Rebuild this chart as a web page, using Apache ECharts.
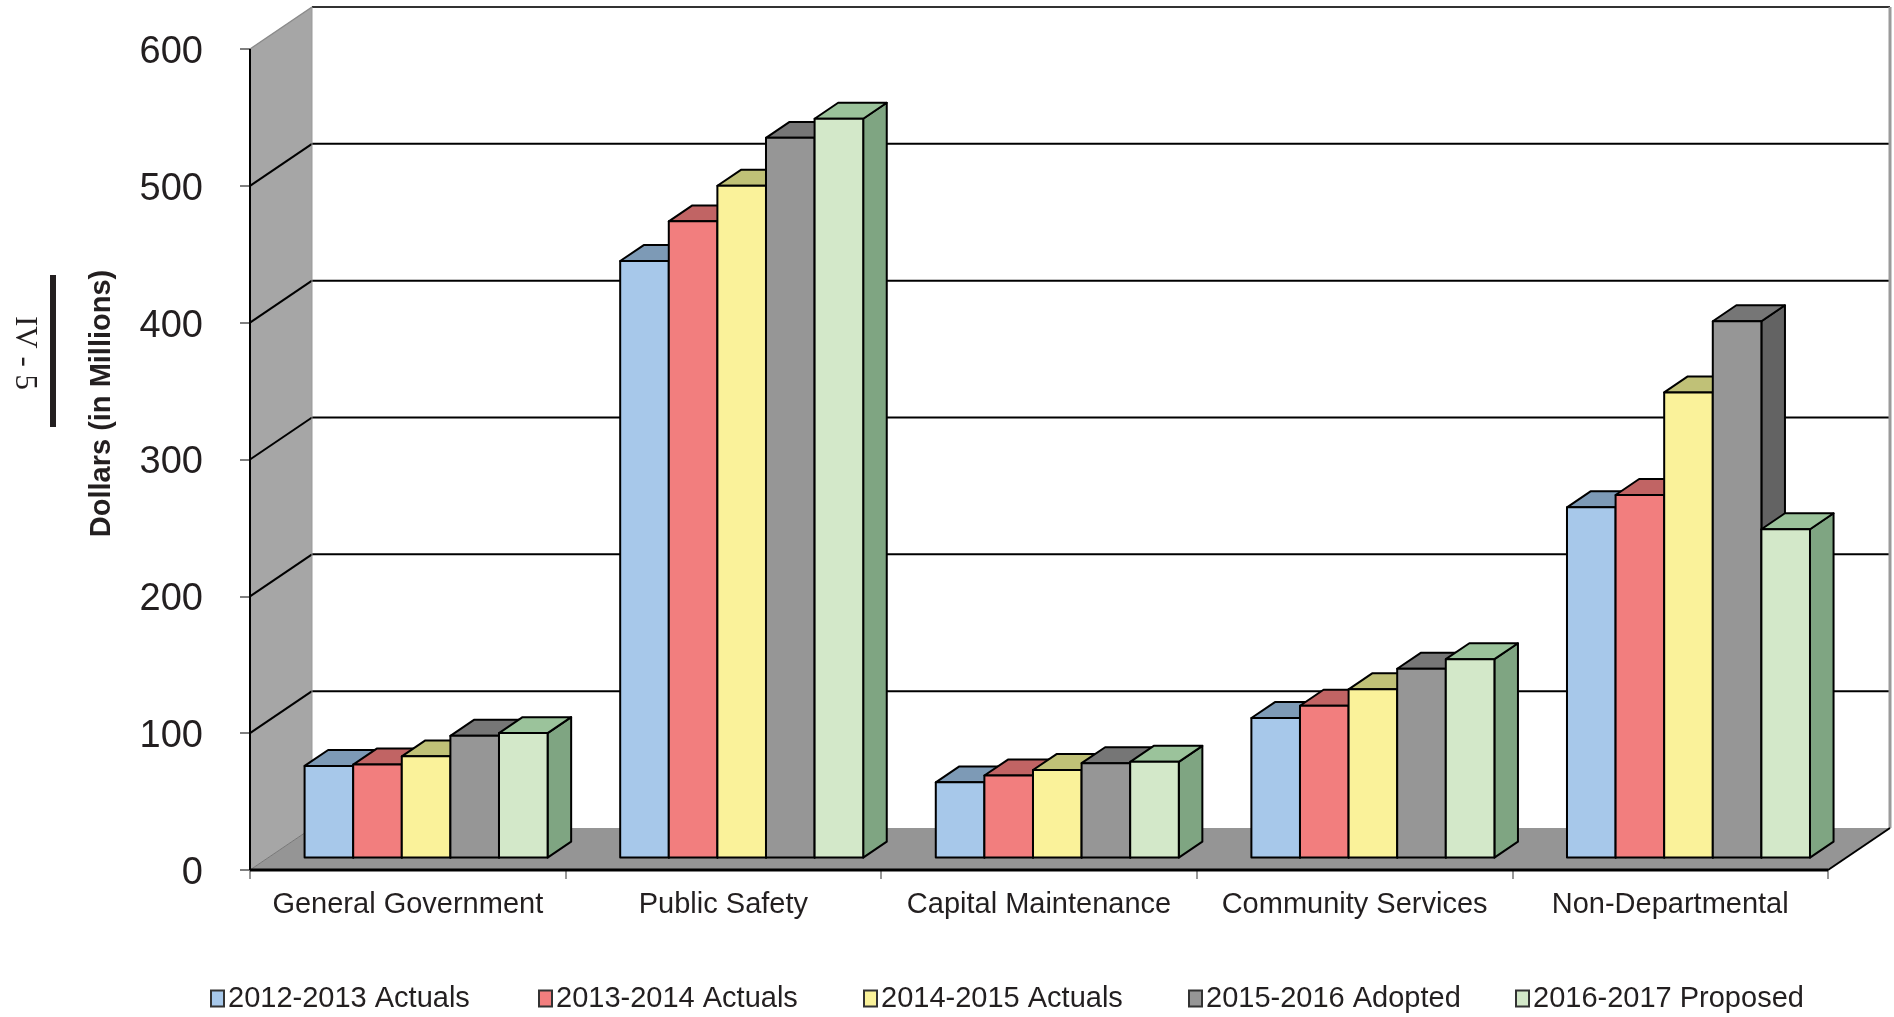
<!DOCTYPE html>
<html>
<head>
<meta charset="utf-8">
<script src="https://cdn.jsdelivr.net/npm/echarts@6/dist/echarts.min.js"></script>
<style>html,body{margin:0;padding:0;background:#fff;}#c{width:1894px;height:1017px;}</style>
</head>
<body>
<div id="c"></div>
<script>
// ---- data ----
const categories = ['General Government', 'Public Safety', 'Capital Maintenance', 'Community Services', 'Non-Departmental'];
const seriesNames = ['2012-2013 Actuals', '2013-2014 Actuals', '2014-2015 Actuals', '2015-2016 Adopted', '2016-2017 Proposed'];
const fy1213 = [67, 436, 55, 102, 256];
const fy1314 = [68, 465, 60, 111, 265];
const fy1415 = [74, 491, 64, 123, 340];
const fy1516 = [89, 526, 69, 138, 392];
const fy1617 = [91, 540, 70, 145, 240];
const yTickValues = [0, 100, 200, 300, 400, 500, 600];

// ---- style ----
const FONT = '"Liberation Sans", Arial, Helvetica, sans-serif';
const TXT = '#231f20';
const frontColors = ['#a7c8ea', '#f27e7e', '#faf29a', '#969696', '#d3e8c9'];
const topColors = ['#7d9ab6', '#c16464', '#c0c177', '#767676', '#9bc39b'];
const sideColors = ['#7190ae', '#b05858', '#b2b36a', '#636363', '#7fa582'];
const legendLefts = [205, 533, 858, 1183, 1510];
const DX = 62, DY = -42;          // depth of the 3D box
const T0 = 0.295;                 // bar front depth fraction
const BD = 0.38;                  // bar depth fraction
const BAR_FRAC = 0.154;           // bar width / category band

const allValues = [fy1213, fy1314, fy1415, fy1516, fy1617];

const chart = echarts.init(document.getElementById('c'), null, {renderer: 'canvas'});

function wallRender(params, api) {
  const cs = params.coordSys;
  const x0 = cs.x, x1 = cs.x + cs.width, yT = cs.y, yB = cs.y + cs.height;
  const ch = [];
  ch.push({type: 'polygon', shape: {points: [[x0, yB], [x0, yT], [x0 + DX, yT + DY], [x0 + DX, yB + DY]]}, style: {fill: '#a6a6a6'}});
  ch.push({type: 'rect', shape: {x: x0 + DX, y: yT + DY, width: x1 - x0, height: yB - yT}, style: {fill: '#ffffff'}});
  ch.push({type: 'polygon', shape: {points: [[x0, yB], [x1, yB], [x1 + DX, yB + DY], [x0 + DX, yB + DY]]}, style: {fill: '#959595'}});
  yTickValues.forEach(function (v) {
    if (v === 0) return;
    const y = api.coord([0, v])[1];
    const top = v === yTickValues[yTickValues.length - 1];
    ch.push({type: 'line', shape: {x1: x0, y1: y, x2: x0 + DX, y2: y + DY}, style: {stroke: top ? '#8a8a8a' : '#000', lineWidth: top ? 1.5 : 2}});
    ch.push({type: 'line', shape: {x1: x0 + DX, y1: y + DY, x2: x1 + DX, y2: y + DY}, style: {stroke: top ? '#333' : '#000', lineWidth: 2}});
  });
  ch.push({type: 'line', shape: {x1: x0 + DX, y1: yT + DY, x2: x0 + DX, y2: yB + DY}, style: {stroke: '#9a9a9a', lineWidth: 1}});
  ch.push({type: 'line', shape: {x1: x1 + DX, y1: yT + DY, x2: x1 + DX, y2: yB + DY}, style: {stroke: '#9a9a9a', lineWidth: 3}});
  ch.push({type: 'line', shape: {x1: x0, y1: yB, x2: x0 + DX, y2: yB + DY}, style: {stroke: '#777', lineWidth: 1}});
  ch.push({type: 'line', shape: {x1: x0, y1: yB, x2: x1, y2: yB}, style: {stroke: '#000', lineWidth: 3}});
  ch.push({type: 'line', shape: {x1: x1, y1: yB, x2: x1 + DX, y2: yB + DY}, style: {stroke: '#000', lineWidth: 2}});
  ch.push({type: 'line', shape: {x1: x0, y1: yT, x2: x0, y2: yB}, style: {stroke: '#000', lineWidth: 2}});
  return {type: 'group', children: ch};
}

function makeBarRender(si) {
  return function (params, api) {
    const ci = api.value(0);
    const base = api.coord([ci, 0]);
    const topP = api.coord([ci, api.value(1)]);
    const band = api.size([1, 0])[0];
    const bw = band * BAR_FRAC;
    const ox = DX * T0, oy = DY * T0;
    const bx = DX * BD, by = DY * BD;
    const gx = base[0] - 2.5 * bw + si * bw + ox;
    const yb = base[1] + oy, yt = topP[1] + oy;
    const st = {stroke: '#000', lineWidth: 2, lineJoin: 'round'};
    return {type: 'group', children: [
      {type: 'polygon', shape: {points: [[gx + bw, yt], [gx + bw + bx, yt + by], [gx + bw + bx, yb + by], [gx + bw, yb]]},
        style: Object.assign({fill: sideColors[si]}, st)},
      {type: 'polygon', shape: {points: [[gx, yt], [gx + bw, yt], [gx + bw + bx, yt + by], [gx + bx, yt + by]]},
        style: Object.assign({fill: topColors[si]}, st)},
      {type: 'rect', shape: {x: gx, y: yt, width: bw, height: yb - yt},
        style: Object.assign({fill: frontColors[si]}, st)}
    ]};
  };
}

const series = [{
  type: 'custom', name: '__walls', silent: true, clip: false, z: 1,
  renderItem: wallRender, data: [[0, 0]]
}];
seriesNames.forEach(function (nm, si) {
  series.push({
    type: 'custom', name: nm, clip: false, z: 2,
    itemStyle: {color: frontColors[si]},
    renderItem: makeBarRender(si),
    data: allValues[si].map(function (v, i) { return [i, v]; })
  });
});

const legends = seriesNames.map(function (nm, i) {
  return {
    data: [nm],
    left: legendLefts[i], top: 979,
    icon: 'rect', itemWidth: 13, itemHeight: 16, itemGap: 0,
    itemStyle: {borderColor: '#333', borderWidth: 2},
    textStyle: {fontFamily: FONT, fontSize: 29, color: TXT, padding: [0, 0, 0, -1]},
    selectedMode: false
  };
});

chart.setOption({
  animation: false,
  backgroundColor: '#ffffff',
  grid: {left: 250, right: 66, top: 49, bottom: 147, containLabel: false},
  xAxis: {
    type: 'category', data: categories, boundaryGap: true,
    axisLine: {show: false},
    axisTick: {show: true, length: 9, lineStyle: {color: '#777', width: 1.5}},
    axisLabel: {fontFamily: FONT, fontSize: 29, color: TXT, margin: 20, interval: 0}
  },
  yAxis: {
    type: 'value', min: yTickValues[0], max: yTickValues[yTickValues.length - 1], interval: 100,
    axisLine: {show: false},
    axisTick: {show: true, length: 10, lineStyle: {color: '#555', width: 1.5}},
    splitLine: {show: false},
    axisLabel: {
      margin: 47, formatter: '{v|{value}}',
      rich: {v: {fontFamily: FONT, fontSize: 38, color: TXT, padding: [7, 0, 0, 0]}}
    }
  },
  legend: legends,
  graphic: [
    {type: 'text', x: 101.7, y: 403.5, rotation: Math.PI / 2,
      style: {text: 'Dollars (in Millions)', font: 'bold 29px ' + FONT, fill: TXT, align: 'center', verticalAlign: 'middle'}},
    {type: 'text', x: 24, y: 353, rotation: -Math.PI / 2,
      style: {text: 'IV - 5', font: '31px "Liberation Serif", "Times New Roman", serif', fill: TXT, align: 'center', verticalAlign: 'middle'}},
    {type: 'rect', shape: {x: 50, y: 275, width: 6, height: 152}, style: {fill: '#231f20'}}
  ],
  series: series
});
</script>
</body>
</html>
